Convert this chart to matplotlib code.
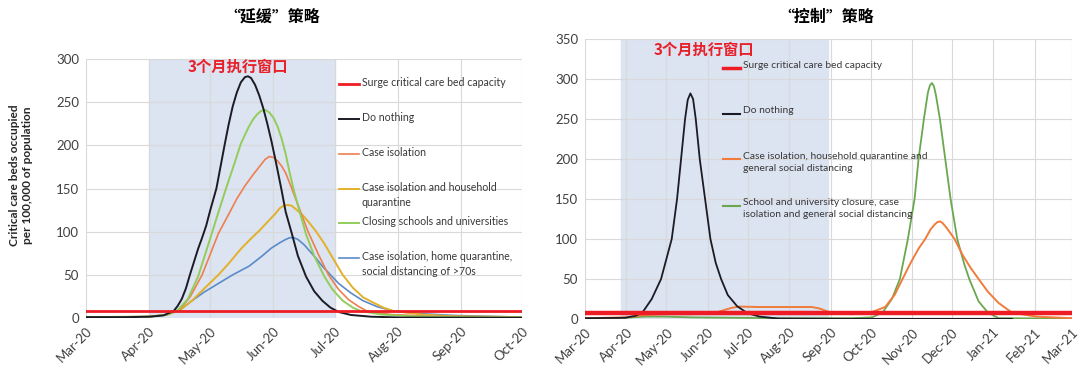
import pandas as pd
import numpy as np
import matplotlib
matplotlib.use('Agg')
import matplotlib.pyplot as plt
import matplotlib.dates as mdates

plt.rcParams['font.family'] = ['Lato', 'DejaVu Sans']

start = pd.Timestamp('2020-03-01')

# ---- left chart: "mitigation" (days since 1 Mar 2020, beds per 100k) ----
black_l_days = [0, 20, 31, 38, 43, 45, 47, 49, 51, 53, 55, 57, 59, 61, 64, 66, 68, 70, 72, 74, 76, 78, 79.5, 81, 83, 85, 87, 89, 91, 93, 96, 98, 101, 104, 108, 112, 116, 120, 124, 130, 140, 155, 214]
black_l_vals = [1, 1, 1.5, 3, 8, 14, 22, 34, 50, 65, 80, 93, 107, 125, 150, 175, 200, 224, 245, 261, 273, 279, 280, 278, 270, 258, 243, 225, 205, 183, 148, 123, 98, 72, 48, 31, 20, 12, 7, 3.5, 1.5, 0.5, 0.3]

green_l_days = [0, 31, 40, 45, 50, 55, 58, 62, 66, 69, 73, 76, 80, 82, 84, 86, 88, 90, 92, 94, 96, 98, 100, 102, 105, 108, 112, 117, 121, 126, 131, 135, 145, 160, 190, 214]
green_l_vals = [1, 1.5, 4, 9, 22, 48, 70, 100, 130, 152, 180, 202, 222, 230, 236, 240, 241, 238, 232, 222, 208, 190, 168, 148, 122, 97, 72, 48, 33, 20, 12, 8, 4, 2, 1, 0.8]

orange_l_days = [0, 31, 40, 46, 51, 57, 61, 65, 70, 74, 78, 82, 86, 88, 90, 92, 94, 96, 98, 101, 105, 109, 114, 119, 124, 129, 134, 138, 150, 170, 214]
orange_l_vals = [1, 1.5, 4, 10, 24, 50, 74, 98, 120, 138, 153, 166, 178, 184, 187, 186, 182, 176, 168, 150, 125, 100, 74, 50, 33, 21, 13, 8, 4, 2, 1]

yellow_l_days = [0, 31, 40, 46, 52, 58, 65, 70, 76, 81, 85, 89, 93, 95, 97, 99, 101, 103, 106, 109, 113, 117, 121, 126, 131, 136, 140, 146, 151, 165, 180, 214]
yellow_l_vals = [1, 1.5, 4, 9, 20, 34, 50, 63, 80, 92, 101, 111, 121, 127, 130, 131, 130, 126, 120, 112, 100, 86, 70, 50, 35, 24, 19, 12, 8, 4, 2, 1]

blue_l_days = [0, 31, 40, 46, 52, 58, 65, 72, 80, 86, 91, 95, 98, 100, 102, 104, 107, 110, 113, 116, 120, 124, 130, 136, 143, 151, 165, 180, 214]
blue_l_vals = [1, 1.5, 4, 9, 20, 30, 40, 50, 60, 71, 81, 87, 91, 93, 93, 91, 85, 77, 69, 60, 50, 40, 29, 20, 13, 8, 5, 3, 1]

capacity = 8

left_ticks = ['2020-03-01', '2020-04-01', '2020-05-01', '2020-06-01', '2020-07-01',
              '2020-08-01', '2020-09-01', '2020-10-01']

# ---- right chart: "suppression" ----
black_r_days = [0, 30, 38, 43, 50, 57, 61, 65, 69, 72, 75, 77, 79, 81, 83, 86, 90, 94, 98, 102, 107, 114, 122, 131, 145, 200, 320]
black_r_vals = [1, 1.5, 4, 8, 25, 50, 75, 100, 150, 200, 250, 274, 282, 275, 250, 200, 150, 100, 70, 50, 30, 16, 7, 3, 0.5, 0.2, 0.2]

orange_r_days = [0, 30, 45, 60, 80, 96, 104, 110, 116, 130, 150, 170, 176, 184, 200, 214, 225, 232, 238, 244, 250, 255, 259, 262, 264, 266, 268, 271, 277, 283, 289, 295, 302, 310, 320, 338, 365]
orange_r_vals = [1, 2, 5, 6, 6, 7, 11, 14, 15.5, 15, 15, 15, 13, 8, 6, 8, 15, 30, 50, 70, 88, 100, 112, 118, 121, 122, 120, 114, 100, 80, 64, 50, 34, 20, 8, 3, 1]

green_r_days = [0, 30, 45, 60, 80, 110, 150, 200, 215, 223, 230, 236, 242, 247, 250, 254, 257, 258.5, 260, 261.5, 263, 266, 270, 274, 279, 284, 288, 295, 302, 310, 365]
green_r_vals = [1, 1.5, 3, 3, 2, 1.5, 1, 1, 2, 8, 25, 50, 100, 150, 200, 250, 283, 292, 295, 291, 280, 250, 200, 150, 100, 70, 50, 22, 8, 1, 0.5]

right_ticks = ['2020-03-01', '2020-04-01', '2020-05-01', '2020-06-01', '2020-07-01',
               '2020-08-01', '2020-09-01', '2020-10-01', '2020-11-01', '2020-12-01',
               '2021-01-01', '2021-02-01', '2021-03-01']


def to_dates(days):
    return start + pd.to_timedelta(days, unit='D')


def style_axes(ax, ticks, ymax, ystep):
    ticks = pd.to_datetime(ticks)
    ax.set_xlim(ticks[0], ticks[-1])
    ax.set_ylim(0, ymax)
    ax.set_xticks(ticks)
    ax.xaxis.set_major_formatter(mdates.DateFormatter('%b-%y'))
    ax.set_yticks(np.arange(0, ymax + 1, ystep))
    for lab in ax.get_xticklabels():
        lab.set_rotation(45)
        lab.set_ha('right')
        lab.set_rotation_mode('anchor')
    ax.tick_params(length=0, labelsize=9.5, colors='#404040', pad=5)
    ax.grid(True, color='#d9d9d9', linewidth=0.8)
    ax.set_axisbelow(True)
    for s in ax.spines.values():
        s.set_visible(False)


def legend_entry(ax, y, color, lw, text, x0, x1, xt, size):
    ax.plot([x0, x1], [y, y], color=color, lw=lw, transform=ax.transAxes, clip_on=False)
    ax.text(xt, y + 0.028, text, transform=ax.transAxes, va='top', ha='left',
            fontsize=size, color='#383838', linespacing=1.45)


fig = plt.figure(figsize=(10.8, 3.76), dpi=100)

# left panel
ax1 = fig.add_axes([86 / 1080, 1 - 318 / 376, 436 / 1080, 259 / 376])
style_axes(ax1, left_ticks, 300, 50)
ax1.axvspan(pd.Timestamp('2020-04-01'), pd.Timestamp('2020-07-01'), color='#dce3f1', zorder=0)
ax1.plot(to_dates(blue_l_days), blue_l_vals, color='#5b8bc9', lw=1.2)
ax1.plot(to_dates(yellow_l_days), yellow_l_vals, color='#e3b02a', lw=1.4)
ax1.plot(to_dates(orange_l_days), orange_l_vals, color='#ee7f4f', lw=1.2)
ax1.plot(to_dates(green_l_days), green_l_vals, color='#92cd5a', lw=1.4)
ax1.plot(to_dates(black_l_days), black_l_vals, color='#1b1b24', lw=1.4)
ax1.axhline(capacity, color='#ee1c25', lw=2)
ax1.text(0.234, 0.97, '3个月执行窗口', transform=ax1.transAxes, ha='left', va='center',
         color='#e8202a', fontsize=11, fontweight='bold',
         family=['Noto Sans CJK SC', 'DejaVu Sans'])

lx0, lx1, lxt, lsz = 0.580, 0.626, 0.632, 7.6
legend_entry(ax1, 0.903, '#ee1c25', 2, 'Surge critical care bed capacity', lx0, lx1, lxt, lsz)
legend_entry(ax1, 0.768, '#1b1b24', 1.4, 'Do nothing', lx0, lx1, lxt, lsz)
legend_entry(ax1, 0.633, '#ee7f4f', 1.2, 'Case isolation', lx0, lx1, lxt, lsz)
legend_entry(ax1, 0.498, '#e3b02a', 1.4, 'Case isolation and household\nquarantine', lx0, lx1, lxt, lsz)
legend_entry(ax1, 0.367, '#92cd5a', 1.4, 'Closing schools and universities', lx0, lx1, lxt, lsz)
legend_entry(ax1, 0.232, '#5b8bc9', 1.2, 'Case isolation, home quarantine,\nsocial distancing of >70s', lx0, lx1, lxt, lsz)

fig.text(21 / 1080, 1 - 175 / 376, 'Critical care beds occupied\nper 100,000 of population',
         rotation=90, ha='center', va='center', fontsize=8.6, fontweight='bold', color='#262626')
fig.text(272 / 1080, 1 - 18 / 376, '“延缓”策略', ha='center', va='center', fontsize=11.5,
         fontweight='bold', family=['Noto Sans CJK SC', 'DejaVu Sans'])

# right panel
ax2 = fig.add_axes([585 / 1080, 1 - 319 / 376, 487 / 1080, 280 / 376])
style_axes(ax2, right_ticks, 350, 50)
ax2.axvspan(pd.Timestamp('2020-03-28'), pd.Timestamp('2020-08-30'), color='#dce3f1', zorder=0)
ax2.plot(to_dates(green_r_days), green_r_vals, color='#6aa84f', lw=1.3)
ax2.plot(to_dates(orange_r_days), orange_r_vals, color='#f07b3a', lw=1.4)
ax2.plot(to_dates(black_r_days), black_r_vals, color='#1b1b24', lw=1.3)
ax2.axhline(capacity, color='#ee1c25', lw=3.2)
ax2.text(0.14, 0.96, '3个月执行窗口', transform=ax2.transAxes, ha='left', va='center',
         color='#e8202a', fontsize=11, fontweight='bold',
         family=['Noto Sans CJK SC', 'DejaVu Sans'])

rx0, rx1, rxt, rsz = 0.283, 0.318, 0.324, 7.4
legend_entry(ax2, 0.895, '#ee1c25', 2.5, 'Surge critical care bed capacity', rx0, rx1, rxt, rsz)
legend_entry(ax2, 0.731, '#1b1b24', 1.5, 'Do nothing', rx0, rx1, rxt, rsz)
legend_entry(ax2, 0.570, '#f07b3a', 1.5, 'Case isolation, household quarantine and\ngeneral social distancing', rx0, rx1, rxt, rsz)
legend_entry(ax2, 0.405, '#6aa84f', 1.5, 'School and university closure, case\nisolation and general social distancing', rx0, rx1, rxt, rsz)

fig.text(826 / 1080, 1 - 17 / 376, '“控制”策略', ha='center', va='center', fontsize=11.5,
         fontweight='bold', family=['Noto Sans CJK SC', 'DejaVu Sans'])

fig.savefig('out.png', dpi=100, facecolor='white')
